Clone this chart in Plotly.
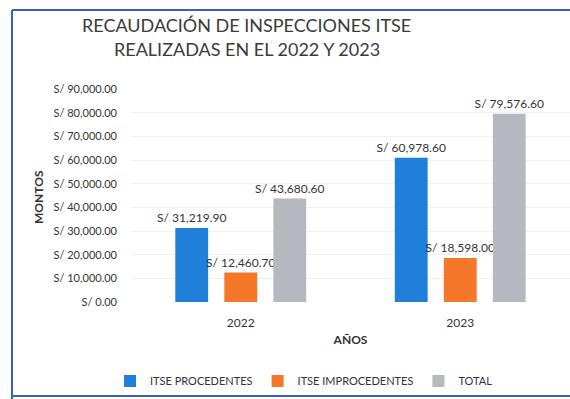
import plotly.graph_objects as go

# Recaudación ITSE por año (soles)
years = ["2022", "2023"]
procedentes = [31219.90, 60978.60]
improcedentes = [12460.70, 18598.00]
total = [43680.60, 79576.60]
series_names = ["ITSE PROCEDENTES", "ITSE IMPROCEDENTES", "TOTAL"]
series_colors = ["#1F7FD9", "#F5782A", "#B6B8BF"]
y_ticks = [0, 10000, 20000, 30000, 40000, 50000, 60000, 70000, 80000, 90000]

W, H = 570, 399
FONT = "Lato"
TXT = "#333333"


def soles(v):
    return "S/ {:,.2f}".format(v)


def px_x(p):
    return p / W


def px_y(p):
    return (H - p) / H


fig = go.Figure()
for name, vals, col in zip(series_names, [procedentes, improcedentes, total], series_colors):
    fig.add_trace(go.Bar(
        x=years, y=vals, name=name,
        marker=dict(color=col, line=dict(width=0)),
        text=[soles(v) for v in vals],
        textposition="outside",
        constraintext="none",
        textfont=dict(family=FONT, size=12, color=TXT),
        cliponaxis=False,
    ))

fig.update_layout(
    width=W, height=H,
    margin=dict(l=0, r=0, t=0, b=0),
    paper_bgcolor="white", plot_bgcolor="white",
    barmode="group", bargap=0.33, bargroupgap=0.33,
    font=dict(family=FONT, color=TXT),
    showlegend=True,
    legend=dict(orientation="h", x=px_x(304), xanchor="center",
                y=px_y(381), yanchor="middle",
                font=dict(family=FONT, size=11, color=TXT),
                itemwidth=30, bgcolor="rgba(0,0,0,0)"),
    xaxis=dict(domain=[px_x(131), 1.0], range=[-0.5, 1.5], automargin=False,
               showline=False, showgrid=False, ticks="",
               tickfont=dict(family=FONT, size=12, color=TXT),
               ticklabelstandoff=12,
               title=dict(text="<b>AÑOS</b>", font=dict(family=FONT, size=12, color=TXT),
                          standoff=6)),
    yaxis=dict(domain=[px_y(302), px_y(89)], range=[0, 90000], automargin=False,
               tickvals=y_ticks, ticktext=[soles(v) for v in y_ticks],
               tickfont=dict(family=FONT, size=11, color=TXT),
               ticklabelstandoff=13,
               showgrid=True, gridcolor="#F1F1F1", gridwidth=1,
               zeroline=False, showline=False, ticks=""),
)

# Chart title (two lines)
fig.add_annotation(text="RECAUDACIÓN DE INSPECCIONES ITSE", xref="paper", yref="paper",
                   x=px_x(246), y=px_y(25), xanchor="center", yanchor="middle",
                   showarrow=False, font=dict(family=FONT, size=18, color="#3a3a3a"))
fig.add_annotation(text="REALIZADAS EN EL 2022 Y 2023", xref="paper", yref="paper",
                   x=px_x(247), y=px_y(49), xanchor="center", yanchor="middle",
                   showarrow=False, font=dict(family=FONT, size=18, color="#3a3a3a"))

# Vertical axis title
fig.add_annotation(text="<b>MONTOS</b>", xref="paper", yref="paper",
                   x=px_x(38), y=px_y(197), xanchor="center", yanchor="middle",
                   textangle=-90, showarrow=False,
                   font=dict(family=FONT, size=12, color=TXT))

# Frame around the chart
frame = "#3A5FC4"
for x0, y0, x1, y1 in [(12, 10, 570, 10), (12, 10, 12, 399), (12, 396, 570, 396)]:
    fig.add_shape(type="line", xref="paper", yref="paper",
                  x0=px_x(x0), y0=px_y(y0), x1=px_x(x1), y1=px_y(y1),
                  line=dict(color=frame, width=2))

fig.write_html("out.html")
